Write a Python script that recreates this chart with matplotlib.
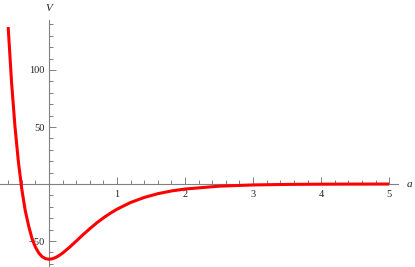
import matplotlib
matplotlib.use("Agg")
import matplotlib.pyplot as plt
from matplotlib.ticker import FixedLocator

# valores
a_vals = [-0.60, -0.55, -0.50, -0.45, -0.40, -0.35, -0.30, -0.25, -0.20, -0.15,
          -0.10, -0.05, 0.00, 0.05, 0.10, 0.15, 0.20, 0.30, 0.40, 0.50, 0.60,
          0.70, 0.80, 0.90, 1.00, 1.20, 1.40, 1.60, 1.80, 2.00, 2.50, 3.00,
          3.50, 4.00, 4.50, 5.00]
V_vals = [137.7, 89.1, 50.4, 19.7, -4.4, -23.0, -36.5, -47.8, -55.3, -60.5,
          -63.8, -65.5, -66.0, -65.6, -64.4, -62.7, -60.6, -55.6, -50.1, -44.5,
          -39.2, -34.2, -29.7, -25.7, -22.1, -16.2, -11.8, -8.5, -6.1, -4.4,
          -1.9, -0.83, -0.36, -0.15, -0.07, -0.03]

x_ticks = [1, 2, 3, 4, 5]
y_ticks = [-50, 50, 100]

plt.rcParams['font.family'] = ['Liberation Serif', 'DejaVu Serif']

fig = plt.figure(figsize=(4.15, 2.67), dpi=100)
ax = fig.add_axes([0, 0, 1, 1])
ax.patch.set_alpha(0)

ax.plot(a_vals, V_vals, color='#ff0000', lw=2.2, solid_capstyle='butt', zorder=3)

ax.set_xlim(-0.72, 5.38)
ax.set_ylim(-72.8, 161.4)

for lado in ['top', 'right']:
    ax.spines[lado].set_visible(False)
ax.spines['left'].set_position(('data', 0))
ax.spines['bottom'].set_position(('data', 0))
ax.spines['bottom'].set_bounds(-0.72, 5.13)
ax.spines['left'].set_bounds(-72, 144)
for lado in ['left', 'bottom']:
    ax.spines[lado].set_color('#808080')
    ax.spines[lado].set_linewidth(0.8)

ax.xaxis.set_major_locator(FixedLocator(x_ticks))
ax.xaxis.set_minor_locator(FixedLocator([-0.6, -0.4, -0.2, 0.2, 0.4, 0.6, 0.8,
                                         1.2, 1.4, 1.6, 1.8, 2.2, 2.4, 2.6, 2.8,
                                         3.2, 3.4, 3.6, 3.8, 4.2, 4.4, 4.6, 4.8]))
ax.yaxis.set_major_locator(FixedLocator(y_ticks))
ax.yaxis.set_minor_locator(FixedLocator([-70, -60, -40, -30, -20, -10, 10, 20, 30, 40,
                                         60, 70, 80, 90, 110, 120, 130, 140]))
ax.tick_params(which='both', direction='in', color='#808080', width=0.7,
               labelsize=7.5, labelcolor='#222222')
ax.tick_params(which='major', length=5)
ax.tick_params(which='minor', length=3)
ax.tick_params(axis='x', pad=4.5)
ax.tick_params(axis='y', pad=3)

ax.text(0.0, 154, 'V', style='italic', fontsize=8, ha='center', va='center', color='#222222')
ax.text(5.3, 0, 'a', style='italic', fontsize=8, ha='center', va='center', color='#222222')

plt.savefig("out.png", dpi=100)
